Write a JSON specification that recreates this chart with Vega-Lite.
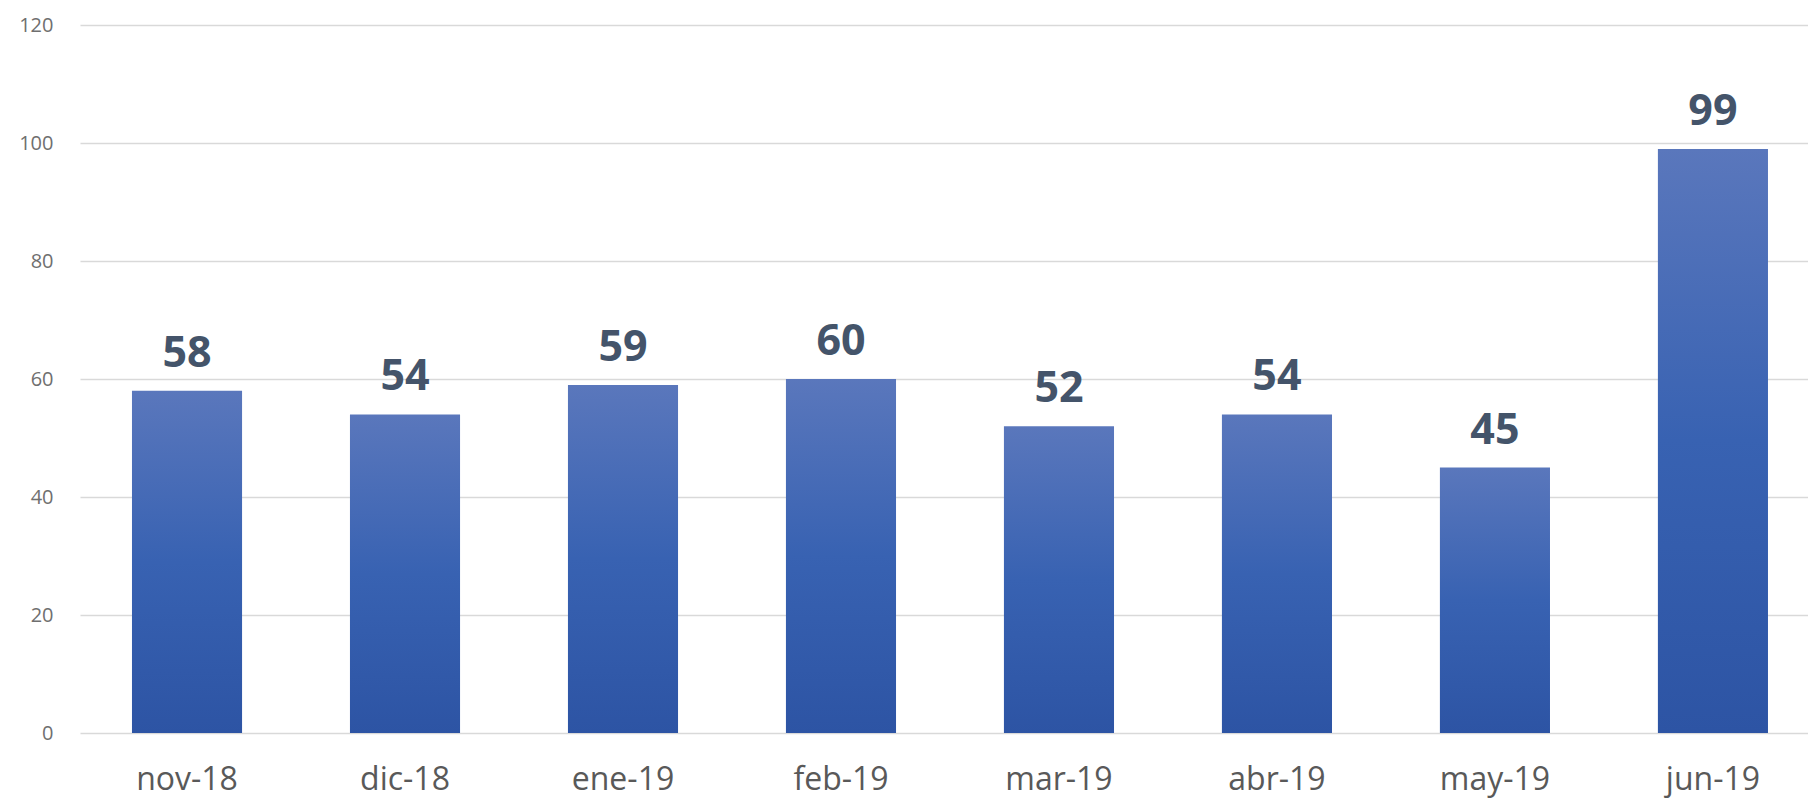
{
  "$schema": "https://vega.github.io/schema/vega-lite/v6.json",
  "autosize": {"type": "none"},
  "padding": {"left": 80, "top": 25, "right": 0, "bottom": 68},
  "width": 1728,
  "height": 708,
  "background": "white",
  "config": {"view": {"stroke": null}},
  "data": {"values": [
    {"mes": "nov-18", "valor": 58},
    {"mes": "dic-18", "valor": 54},
    {"mes": "ene-19", "valor": 59},
    {"mes": "feb-19", "valor": 60},
    {"mes": "mar-19", "valor": 52},
    {"mes": "abr-19", "valor": 54},
    {"mes": "may-19", "valor": 45},
    {"mes": "jun-19", "valor": 99}
  ]},
  "encoding": {
    "x": {
      "field": "mes", "type": "nominal", "sort": null,
      "scale": {"paddingInner": 0.495, "paddingOuter": 0.211, "align": 0.565},
      "axis": {"title": null, "labelAngle": 0, "domain": false, "ticks": false,
               "labelFont": "Open Sans", "labelFontSize": 32, "labelColor": "#595959",
               "labelPadding": 31}
    },
    "y": {
      "field": "valor", "type": "quantitative",
      "scale": {"domain": [0, 120], "nice": false},
      "axis": {"title": null, "values": [0, 20, 40, 60, 80, 100, 120], "domain": false, "ticks": false,
               "labelFont": "Open Sans", "labelFontSize": 20, "labelColor": "#6f6f6f",
               "labelPadding": 27, "gridColor": "#d9d9d9", "gridWidth": 1.5}
    }
  },
  "layer": [
    {
      "mark": {"type": "bar", "color": {
        "gradient": "linear", "x1": 0, "y1": 0, "x2": 0, "y2": 1,
        "stops": [
          {"offset": 0, "color": "#5a77bc"},
          {"offset": 0.5, "color": "#3862b2"},
          {"offset": 1, "color": "#2d54a4"}
        ]}}
    },
    {
      "mark": {"type": "text", "baseline": "alphabetic", "dy": -24, "font": "Open Sans",
               "fontSize": 43, "fontWeight": "bold", "color": "#44546a"},
      "encoding": {"text": {"field": "valor", "type": "quantitative"}}
    }
  ]
}
